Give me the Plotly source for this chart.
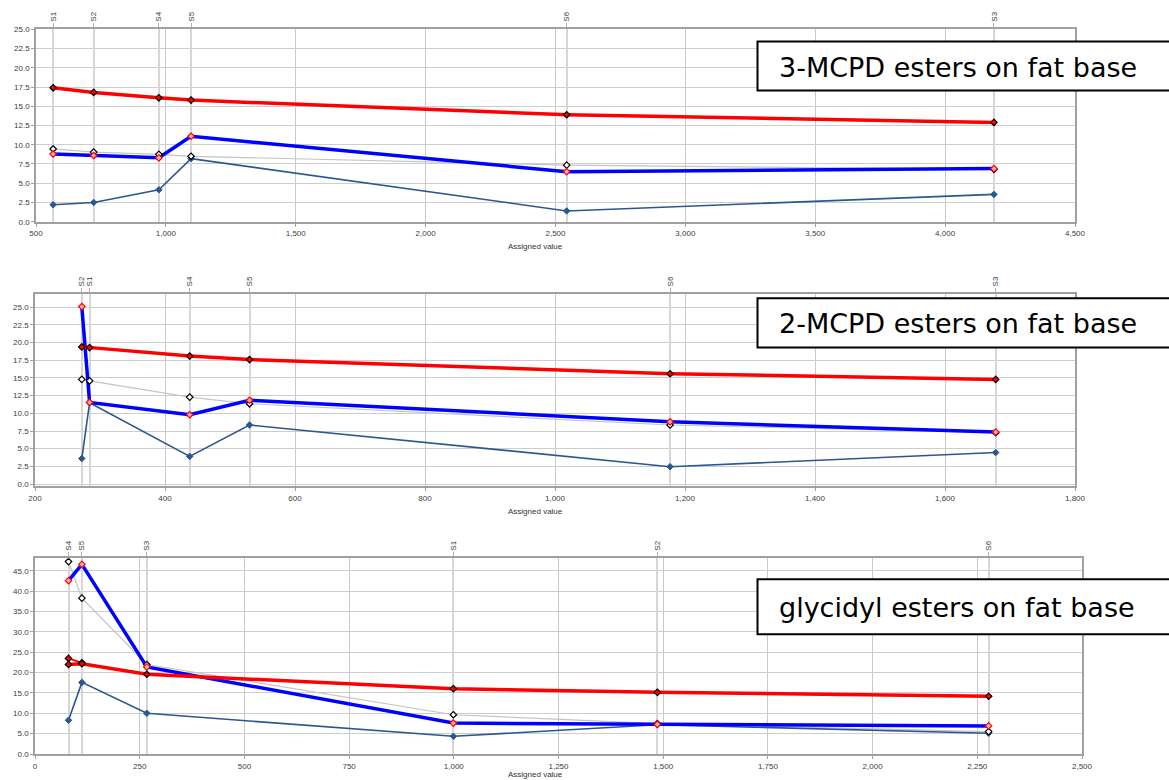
import plotly.graph_objects as go

W, H = 1169, 780

# ---------------- data ----------------
# Panel 1: 3-MCPD esters on fat base
p1_names = ["S1", "S2", "S4", "S5", "S6", "S3"]
p1_x = [566, 722, 973, 1097, 2543, 4188]
p1_red = [17.4, 16.8, 16.1, 15.8, 13.9, 12.9]
p1_blue = [8.8, 8.6, 8.3, 11.1, 6.5, 6.9]
p1_gray = [9.45, 9.05, 8.75, 8.5, 7.35, 6.8]
p1_steel = [2.2, 2.5, 4.15, 8.2, 1.4, 3.55]

# Panel 2: 2-MCPD esters on fat base
p2_names = ["S2", "S1", "S4", "S5", "S6", "S3"]
p2_x = [272, 284, 438, 530, 1177, 1678]
p2_red = [19.4, 19.3, 18.1, 17.6, 15.6, 14.8]
p2_blue = [25.1, 11.55, 9.8, 11.85, 8.8, 7.35]
p2_gray = [14.8, 14.6, 12.3, 11.35, 8.35, 7.25]
p2_steel = [3.6, 11.5, 3.9, 8.35, 2.45, 4.45]

# Panel 3: glycidyl esters on fat base
p3_names = ["S4", "S5", "S3", "S1", "S2", "S6"]
p3_x = [80, 112, 267, 999, 1486, 2277]
p3_red = [22.0, 22.2, 19.6, 16.05, 15.15, 14.2]
p3_red2_x = [80, 112]
p3_red2 = [23.5, 22.4]
p3_blue = [42.6, 46.6, 21.4, 7.6, 7.3, 6.9]
p3_gray = [47.3, 38.3, 22.0, 9.65, 7.45, 5.5]
p3_steel = [8.3, 17.6, 10.0, 4.35, 7.2, 5.1]

titles = ["3-MCPD esters on fat base", "2-MCPD esters on fat base",
          "glycidyl esters on fat base"]

# ---------------- layout geometry (pixels) ----------------
panels = [
    dict(names=p1_names, x=p1_x, red=p1_red, blue=p1_blue, gray=p1_gray, steel=p1_steel,
         xpx=(36, 1075), ypx=(29.3, 221.7), xr=[500, 4500], yr=[0, 25],
         dx=500, dy=2.5, box=(41.5, 90.5), title_y=246.5, extra=None),
    dict(names=p2_names, x=p2_x, red=p2_red, blue=p2_blue, gray=p2_gray, steel=p2_steel,
         xpx=(35, 1075), ypx=(294, 486), xr=[200, 1800], yr=[-0.28, 26.88],
         dx=200, dy=2.5, box=(298.3, 347.5), title_y=511.5, extra=None),
    dict(names=p3_names, x=p3_x, red=p3_red, blue=p3_blue, gray=p3_gray, steel=p3_steel,
         xpx=(35, 1082), ypx=(558.3, 754), xr=[0, 2500], yr=[0, 48.1],
         dx=250, dy=5, box=(579.3, 634.3), title_y=774.0, extra=(p3_red2_x, p3_red2)),
]

RED = "#ff0000"
BLUE = "#0000ff"
GRAY = "#c4c4c4"
STEEL = "#2b5790"
TICKFONT = dict(family="Liberation Sans, Arial, sans-serif", size=8, color="#3c3c3c")
MS = 5

fig = go.Figure()
layout = dict(width=W, height=H, margin=dict(l=0, r=0, t=0, b=0, autoexpand=False),
              paper_bgcolor="white", plot_bgcolor="white", showlegend=False,
              shapes=[], annotations=[])

for i, p in enumerate(panels):
    k = i + 1
    xa = "x" if k == 1 else f"x{k}"
    ya = "y" if k == 1 else f"y{k}"
    top_idx = k + 3
    xt = f"x{top_idx}"
    xdom = [p["xpx"][0] / W, p["xpx"][1] / W]
    ydom = [1 - p["ypx"][1] / H, 1 - p["ypx"][0] / H]

    common = dict(xaxis=xa, yaxis=ya, hoverinfo="skip")
    # lines
    fig.add_trace(go.Scatter(x=p["x"], y=p["gray"], mode="lines",
                             line=dict(color=GRAY, width=1.2), **common))
    fig.add_trace(go.Scatter(x=p["x"], y=p["steel"], mode="lines",
                             line=dict(color=STEEL, width=1.6), **common))
    fig.add_trace(go.Scatter(x=p["x"], y=p["blue"], mode="lines",
                             line=dict(color=BLUE, width=3.5), **common))
    if p["extra"] is not None:
        fig.add_trace(go.Scatter(x=p["extra"][0], y=p["extra"][1], mode="lines",
                                 line=dict(color=RED, width=2), **common))
    fig.add_trace(go.Scatter(x=p["x"], y=p["red"], mode="lines",
                             line=dict(color=RED, width=3.5), **common))
    # markers
    fig.add_trace(go.Scatter(x=p["x"], y=p["steel"], mode="markers",
                             marker=dict(symbol="diamond", size=MS, color=STEEL,
                                         line=dict(color=STEEL, width=1)), **common))
    fig.add_trace(go.Scatter(x=p["x"], y=p["gray"], mode="markers",
                             marker=dict(symbol="diamond", size=MS, color="white",
                                         line=dict(color="black", width=1.2)), **common))
    fig.add_trace(go.Scatter(x=p["x"], y=p["blue"], mode="markers",
                             marker=dict(symbol="diamond", size=MS, color="#ffb0b0",
                                         line=dict(color=RED, width=1.2)), **common))
    if p["extra"] is not None:
        fig.add_trace(go.Scatter(x=p["extra"][0], y=p["extra"][1], mode="markers",
                                 marker=dict(symbol="diamond", size=MS, color=RED,
                                             line=dict(color="black", width=1.2)), **common))
    fig.add_trace(go.Scatter(x=p["x"], y=p["red"], mode="markers",
                             marker=dict(symbol="diamond", size=MS, color=RED,
                                         line=dict(color="black", width=1.2)), **common))
    # invisible trace for top sample axis
    fig.add_trace(go.Scatter(x=p["x"], y=[None] * len(p["x"]), mode="markers",
                             marker=dict(opacity=0), xaxis=xt, yaxis=ya, hoverinfo="skip"))

    xkey = "xaxis" if k == 1 else f"xaxis{k}"
    ykey = "yaxis" if k == 1 else f"yaxis{k}"
    layout[xkey] = dict(domain=xdom, anchor=ya, range=p["xr"], dtick=p["dx"], tick0=0,
                        tickformat=",", showgrid=True, gridcolor="#c8c8c8", gridwidth=1,
                        showline=True, linecolor="#a0a0a0", linewidth=2,
                        ticks="outside", ticklen=3, tickcolor="#a0a0a0",
                        tickfont=TICKFONT, zeroline=False, fixedrange=True,
                        automargin=False)
    layout[ykey] = dict(domain=ydom, anchor=xa, range=p["yr"], dtick=p["dy"], tick0=0,
                        tickformat=".1f", showgrid=True, gridcolor="#cdcdcd", gridwidth=1,
                        showline=True, linecolor="#a0a0a0", linewidth=1.5, mirror=True,
                        ticks="outside", ticklen=3, tickcolor="#a0a0a0",
                        tickfont=TICKFONT, zeroline=False, fixedrange=True,
                        automargin=False)
    layout[f"xaxis{top_idx}"] = dict(overlaying=xa, anchor=ya, side="top", range=p["xr"],
                                     tickmode="array", tickvals=p["x"], ticktext=p["names"],
                                     tickangle=-90, showgrid=True, gridcolor="#d6d6d6",
                                     gridwidth=2, showline=True, linecolor="#a0a0a0",
                                     linewidth=2, ticks="outside", ticklen=4,
                                     tickcolor="#b0b0b0", tickfont=TICKFONT,
                                     zeroline=False, fixedrange=True, automargin=False)

    # axis title
    layout["annotations"].append(dict(xref="paper", yref="paper", x=535 / W,
                                      y=1 - p["title_y"] / H, text="Assigned value",
                                      showarrow=False, xanchor="center", yanchor="middle",
                                      font=dict(family="Liberation Sans, Arial, sans-serif",
                                                size=8, color="#333333")))
    # title box
    bt, bb = p["box"]
    layout["shapes"].append(dict(type="rect", xref="paper", yref="paper",
                                 x0=757.5 / W, x1=1180 / W, y0=1 - bb / H, y1=1 - bt / H,
                                 line=dict(color="black", width=2), fillcolor="white",
                                 layer="above"))
    layout["annotations"].append(dict(xref="paper", yref="paper", x=777 / W,
                                      y=1 - ((bt + bb) / 2 + 1.0) / H, text=titles[i],
                                      showarrow=False, xanchor="left", yanchor="middle",
                                      font=dict(family="DejaVu Sans, Verdana, sans-serif",
                                                size=27, color="black")))

fig.update_layout(**layout)
fig.write_html("out.html", config={"displayModeBar": False},
               post_script="document.body.style.margin='0';document.body.style.overflow='hidden';")
